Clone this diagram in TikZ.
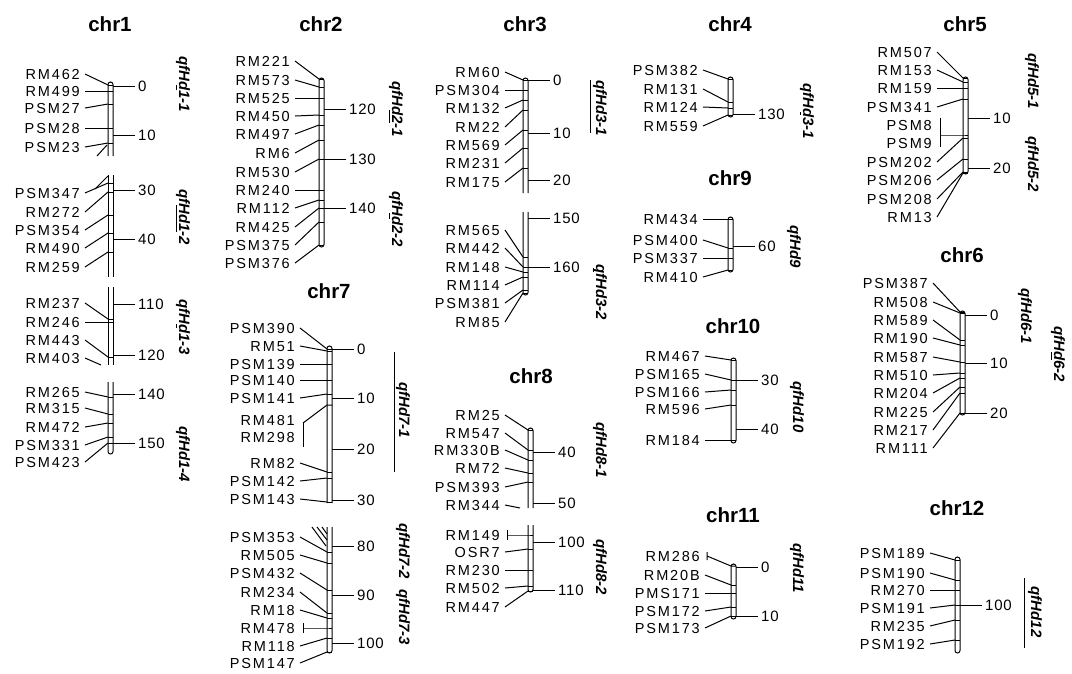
\documentclass[tikz,border=0pt]{standalone}
\usepackage{fontspec}
\setmainfont{Liberation Sans}
\newfontfamily\labfont[LetterSpace=13]{Liberation Sans}
\newfontfamily\numfont[LetterSpace=5]{Liberation Sans}
\tikzset{
  ln/.style={line width=1pt, black},
  lab/.style={anchor=east, inner xsep=5pt, inner ysep=0pt, text height=10pt, text depth=0pt, font=\labfont\fontsize{14.5}{14.5}\selectfont},
  num/.style={anchor=west, inner xsep=3pt, inner ysep=0pt, text height=10pt, text depth=0pt, font=\numfont\fontsize{15}{15}\selectfont},
  qtl/.style={rotate=-90, inner sep=0pt, font=\bfseries\itshape\fontsize{15}{15}\selectfont},
  ttl/.style={anchor=base, inner sep=0pt, font=\bfseries\fontsize{20.5}{20.5}\selectfont}
}
% marker: name, text, label right x, label y, bar left x, marker y
\newcommand\mrk[6]{%
  \node[lab] (#1) at (#3+5,#4) {#2};
  \coordinate (#1b) at (#5,#6);
  \draw[ln] (#1.east) -- (#1b);
  \draw[ln] (#1b) -- ++(5,0);}
% marker leader without bar tick
\newcommand\mrkx[6]{%
  \node[lab] (#1) at (#3+5,#4) {#2};
  \coordinate (#1b) at (#5,#6);
  \draw[ln] (#1.east) -- (#1b);}
% scale tick: name, bar right x, y, text
\newcommand\tck[4]{%
  \coordinate (#1a) at (#2,#3);
  \node[num] (#1) at (#2+22,#3) {#4};
  \draw[ln] (#1a) -- (#1.west);}
% bar segments: x, top, bottom
\newcommand\segT[3]{\draw[ln,rounded corners=2.5pt] (#1,#3) -- (#1,#2) -- (#1+5,#2) -- (#1+5,#3);}
\newcommand\segB[3]{\draw[ln,rounded corners=2.5pt] (#1,#2) -- (#1,#3) -- (#1+5,#3) -- (#1+5,#2);}
\newcommand\segO[3]{\draw[ln] (#1,#2) -- (#1,#3) (#1+5,#2) -- (#1+5,#3);}
\newcommand\segA[3]{\draw[ln,rounded corners=2.5pt] (#1,#2) rectangle (#1+5,#3);}
\begin{document}
\begin{tikzpicture}[x=1pt,y=-1pt]
\useasboundingbox (0,0) rectangle (1072,673);
\fill[white] (0,0) rectangle (1072,673);

% ---------------- chr1
\node[ttl] (t1) at (110,31) {chr1};
\segT{108}{82}{156}
\segO{108}{175}{277}
\segO{108}{287}{365}
\segB{108}{382}{454}
\mrk{a1}{RM462}{80}{74}{108}{85}
\mrk{a2}{RM499}{80}{91}{108}{91}
\mrk{a3}{PSM27}{80}{108}{108}{104}
\mrk{a4}{PSM28}{80}{128}{108}{128}
\mrk{a5}{PSM23}{80}{147}{108}{143}
\coordinate (a5s1) at (97,156); \coordinate (a5s2) at (107,145);
\draw[ln] (a5s1) -- (a5s2);
\coordinate (a6s1) at (95,189); \coordinate (a6s2) at (108,176);
\draw[ln] (a6s1) -- (a6s2);
\mrk{a6}{PSM347}{80}{193}{108}{183}
\mrk{a7}{RM272}{80}{212}{108}{192}
\mrk{a8}{PSM354}{80}{230}{108}{215}
\mrk{a9}{RM490}{80}{248}{108}{233}
\mrk{a10}{RM259}{80}{267}{108}{252}
\mrk{a11}{RM237}{80}{303}{108}{319}
\mrk{a12}{RM246}{80}{322}{108}{322}
\mrk{a13}{RM443}{80}{340}{108}{357}
\mrkx{a14}{RM403}{80}{358}{101}{365}
\mrk{a15}{RM265}{80}{392}{108}{397}
\mrk{a16}{RM315}{80}{408}{108}{414}
\mrk{a17}{RM472}{80}{427}{108}{423}
\mrk{a18}{PSM331}{80}{445}{108}{437}
\mrk{a19}{PSM423}{80}{462}{108}{443}
\tck{s1a}{113}{86}{0}
\tck{s1b}{113}{135}{10}
\tck{s1c}{113}{190}{30}
\tck{s1d}{113}{239}{40}
\tck{s1e}{113}{304}{110}
\tck{s1f}{113}{355}{120}
\tck{s1g}{113}{394}{140}
\tck{s1h}{113}{443}{150}
\node[qtl] (q11) at (183,84) {qfHd1-1};
\node[qtl] (q12) at (183,217) {qfHd1-2};
\node[qtl] (q13) at (183,327) {qfHd1-3};
\node[qtl] (q14) at (183,454) {qfHd1-4};
\draw[ln] (176,85) -- (176,90);
\draw[ln] (176,205) -- (176,232);
\draw[ln] (176,324) -- (176,328);

% ---------------- chr2
\node[ttl] (t2) at (321,31) {chr2};
\segA{319}{78}{247}
\mrk{b1}{RM221}{290}{61}{319}{79}
\mrk{b2}{RM573}{290}{80}{319}{87}
\mrk{b3}{RM525}{290}{98}{319}{98}
\mrk{b4}{RM450}{290}{116}{319}{115}
\mrk{b5}{RM497}{290}{134}{319}{125}
\mrk{b6}{RM6}{290}{153}{319}{140}
\mrk{b7}{RM530}{290}{172}{319}{159}
\mrk{b8}{RM240}{290}{190}{319}{190}
\mrk{b9}{RM112}{290}{208}{319}{200}
\mrk{b10}{RM425}{290}{227}{319}{208}
\mrk{b11}{PSM375}{290}{245}{319}{222}
\mrk{b12}{PSM376}{290}{263}{319}{245}
\tck{s2a}{324}{109}{120}
\tck{s2b}{324}{159}{130}
\tck{s2c}{324}{208}{140}
\node[qtl] (q21) at (396,109) {qfHd2-1};
\node[qtl] (q22) at (396,219) {qfHd2-2};
\draw[ln] (389,110) -- (389,123);
\draw[ln] (389,213) -- (389,219);

% ---------------- chr7
\node[ttl] (t7) at (329,298) {chr7};
\segT{327}{346}{503}
\segB{327}{527}{653}
\mrk{g1}{PSM390}{295}{328}{327}{349}
\mrk{g2}{RM51}{295}{346}{327}{351}
\mrk{g3}{PSM139}{295}{364}{327}{364}
\mrk{g4}{PSM140}{295}{380}{327}{380}
\mrk{g5}{PSM141}{295}{398}{327}{394}
\node[lab] (g6) at (300,420) {RM481};
\node[lab] (g7) at (300,437) {RM298};
\coordinate (g6t) at (303,423); \coordinate (g6u) at (303,447);
\coordinate (g6b) at (327,405);
\draw[ln] (g6t) -- (g6u);
\draw[ln] (g6t) -- (g6b) -- ++(5,0);
\mrk{g8}{RM82}{295}{463}{327}{472}
\mrk{g9}{PSM142}{295}{481}{327}{478}
\mrk{g10}{PSM143}{295}{499}{327}{502}
\coordinate (g11s1) at (312,527); \coordinate (g11s2) at (326,546);
\coordinate (g11s3) at (317,527); \coordinate (g11s4) at (327,540);
\coordinate (g11s5) at (322,527); \coordinate (g11s6) at (327,534);
\draw[ln] (g11s1) -- (g11s2) (g11s3) -- (g11s4) (g11s5) -- (g11s6);
\mrk{g11}{PSM353}{295}{537}{327}{552}
\mrk{g12}{RM505}{295}{555}{327}{563}
\mrk{g13}{PSM432}{295}{573}{327}{590}
\mrk{g14}{RM234}{295}{592}{327}{613}
\mrk{g15}{RM18}{295}{610}{327}{618}
\node[lab] (g16) at (300,628) {RM478};
\coordinate (g16a) at (303,628); \coordinate (g16b) at (327,628);
\coordinate (g16c) at (303,623); \coordinate (g16d) at (303,633);
\draw[ln] (g16c) -- (g16d) (g16a) -- (g16b) -- ++(5,0);
\mrk{g17}{RM118}{295}{646}{327}{638}
\mrk{g18}{PSM147}{295}{663}{327}{652}
\tck{s7a}{332}{349}{0}
\tck{s7b}{332}{398}{10}
\tck{s7c}{332}{449}{20}
\tck{s7d}{332}{500}{30}
\tck{s7e}{332}{546}{80}
\tck{s7f}{332}{595}{90}
\tck{s7g}{332}{643}{100}
\draw[ln] (394,352) -- (394,472);
\node[qtl] (q71) at (403,410) {qfHd7-1};
\node[qtl] (q72) at (403,551) {qfHd7-2};
\node[qtl] (q73) at (403,617) {qfHd7-3};

% ---------------- chr3
\node[ttl] (t3) at (525,31) {chr3};
\segT{523}{78}{193}
\segB{523}{212}{295}
\mrk{c1}{RM60}{500}{72}{523}{80}
\mrk{c2}{PSM304}{500}{90}{523}{90}
\mrk{c3}{RM132}{500}{108}{523}{100}
\mrk{c4}{RM22}{500}{127}{523}{110}
\mrk{c5}{RM569}{500}{145}{523}{130}
\mrk{c6}{RM231}{500}{163}{523}{148}
\mrk{c7}{RM175}{500}{182}{523}{168}
\mrk{c8}{RM565}{500}{230}{523}{257}
\mrk{c9}{RM442}{500}{248}{523}{267}
\mrk{c10}{RM148}{500}{267}{523}{272}
\mrk{c11}{RM114}{500}{285}{523}{277}
\mrk{c12}{PSM381}{500}{303}{523}{290}
\mrk{c13}{RM85}{500}{322}{523}{293}
\tck{s3a}{528}{80}{0}
\tck{s3b}{528}{133}{10}
\tck{s3c}{528}{180}{20}
\tck{s3d}{528}{218}{150}
\tck{s3e}{528}{267}{160}
\draw[ln] (590,80) -- (590,133);
\node[qtl] (q31) at (600,108) {qfHd3-1};
\node[qtl] (q32) at (600,292) {qfHd3-2};
\draw[ln] (593,268) -- (593,272);

% ---------------- chr8
\node[ttl] (t8) at (531,383) {chr8};
\segT{528}{428}{508}
\segB{528}{525}{592}
\mrk{h1}{RM25}{500}{415}{528}{430}
\mrk{h2}{RM547}{500}{433}{528}{450}
\mrk{h3}{RM330B}{500}{450}{528}{460}
\mrk{h4}{RM72}{500}{468}{528}{473}
\mrk{h5}{PSM393}{500}{487}{528}{482}
\mrkx{h6}{RM344}{500}{505}{520}{508}
\node[lab] (h7) at (505,535) {RM149};
\coordinate (h7a) at (507,535); \coordinate (h7b) at (528,535);
\coordinate (h7c) at (507,530); \coordinate (h7d) at (507,540);
\draw[ln] (h7c) -- (h7d) (h7a) -- (h7b) -- ++(5,0);
\mrk{h8}{OSR7}{500}{552}{528}{549}
\mrk{h9}{RM230}{500}{570}{528}{570}
\mrk{h10}{RM502}{500}{588}{528}{586}
\mrk{h11}{RM447}{500}{607}{528}{591}
\tck{s8a}{533}{452}{40}
\tck{s8b}{533}{503}{50}
\tck{s8c}{533}{542}{100}
\tck{s8d}{533}{590}{110}
\node[qtl] (q81) at (600,450) {qfHd8-1};
\node[qtl] (q82) at (600,567) {qfHd8-2};

% ---------------- chr4
\node[ttl] (t4) at (730,31) {chr4};
\segA{728}{77}{117}
\mrk{d1}{PSM382}{698}{70}{728}{79}
\mrk{d2}{RM131}{698}{89}{728}{102}
\mrk{d3}{RM124}{698}{107}{728}{108}
\mrk{d4}{RM559}{698}{126}{728}{115}
\tck{s4a}{733}{114}{130}
\node[qtl] (q41) at (807,111) {qfHd3-1};
\draw[ln] (800,112) -- (800,115);

% ---------------- chr9
\node[ttl] (t9) at (730,185) {chr9};
\segA{728}{217}{272}
\mrk{i1}{RM434}{698}{219}{728}{219}
\mrk{i2}{PSM400}{698}{240}{728}{248}
\mrk{i3}{PSM337}{698}{258}{728}{258}
\mrk{i4}{RM410}{698}{277}{728}{270}
\tck{s9a}{733}{246}{60}
\node[qtl] (q91) at (794,247) {qfHd9};

% ---------------- chr10
\node[ttl] (t10) at (733,333) {chr10};
\segA{731}{358}{443}
\mrk{j1}{RM467}{700}{356}{731}{360}
\mrk{j2}{PSM165}{700}{374}{731}{380}
\mrk{j3}{PSM166}{700}{392}{731}{390}
\mrk{j4}{RM596}{700}{409}{731}{405}
\mrk{j5}{RM184}{700}{440}{731}{440}
\tck{s10a}{736}{380}{30}
\tck{s10b}{736}{429}{40}
\node[qtl] (q101) at (797,407) {qfHd10};

% ---------------- chr11
\node[ttl] (t11) at (733,522) {chr11};
\segA{731}{564}{619}
\node[lab] (k1) at (705,556) {RM286};
\coordinate (k1a) at (707,556); \coordinate (k1b) at (731,566);
\coordinate (k1c) at (707,552); \coordinate (k1d) at (707,560);
\draw[ln] (k1c) -- (k1d) (k1a) -- (k1b) -- ++(5,0);
\mrk{k2}{RM20B}{700}{575}{731}{585}
\mrk{k3}{PMS171}{700}{593}{731}{593}
\mrk{k4}{PSM172}{700}{611}{731}{607}
\mrk{k5}{PSM173}{700}{628}{731}{616}
\tck{s11a}{736}{567}{0}
\tck{s11b}{736}{616}{10}
\node[qtl] (q111) at (797,568) {qfHd11};

% ---------------- chr5
\node[ttl] (t5) at (965,31) {chr5};
\segA{963}{77}{174}
\mrk{e1}{RM507}{932}{52}{963}{78}
\mrk{e2}{RM153}{932}{70}{963}{82}
\mrk{e3}{RM159}{932}{88}{963}{88}
\mrk{e4}{PSM341}{932}{107}{963}{99}
\node[lab] (e5) at (937,125) {PSM8};
\node[lab] (e6) at (937,143) {PSM9};
\coordinate (e5a) at (940,118); \coordinate (e5b) at (940,147);
\coordinate (e5c) at (940,135); \coordinate (e5d) at (963,135);
\draw[ln] (e5a) -- (e5b) (e5c) -- (e5d) -- ++(5,0);
\mrk{e7}{PSM202}{932}{162}{963}{138}
\mrk{e8}{PSM206}{932}{180}{963}{159}
\mrk{e9}{PSM208}{932}{199}{963}{172}
\mrk{e10}{RM13}{932}{217}{963}{173}
\tck{s5a}{968}{118}{10}
\tck{s5b}{968}{168}{20}
\node[qtl] (q51) at (1032,81) {qfHd5-1};
\node[qtl] (q52) at (1032,164) {qfHd5-2};

% ---------------- chr6
\node[ttl] (t6) at (962,262) {chr6};
\segA{960}{311}{415}
\mrk{f1}{PSM387}{928}{283}{960}{312}
\mrk{f2}{RM508}{928}{302}{960}{313}
\mrk{f3}{RM589}{928}{320}{960}{340}
\mrk{f4}{RM190}{928}{338}{960}{345}
\mrk{f5}{RM587}{928}{357}{960}{362}
\mrk{f6}{RM510}{928}{375}{960}{373}
\mrk{f7}{RM204}{928}{393}{960}{378}
\mrk{f8}{RM225}{928}{412}{960}{387}
\mrk{f9}{RM217}{928}{430}{960}{393}
\mrk{f10}{RM111}{928}{448}{960}{413}
\tck{s6a}{965}{315}{0}
\tck{s6b}{965}{363}{10}
\tck{s6c}{965}{413}{20}
\node[qtl] (q61) at (1025,316) {qfHd6-1};
\node[qtl] (q62) at (1058,354) {qfHd6-2};
\draw[ln] (1051,352) -- (1051,360);

% ---------------- chr12
\node[ttl] (t12) at (957,515) {chr12};
\segA{955}{557}{653}
\mrk{l1}{PSM189}{925}{553}{955}{560}
\mrk{l2}{PSM190}{925}{573}{955}{580}
\mrk{l3}{RM270}{925}{590}{955}{590}
\mrk{l4}{PSM191}{925}{608}{955}{605}
\mrk{l5}{RM235}{925}{626}{955}{620}
\mrk{l6}{PSM192}{925}{644}{955}{640}
\tck{s12a}{960}{605}{100}
\draw[ln] (1024,578) -- (1024,648);
\node[qtl] (q121) at (1035,612) {qfHd12};
\end{tikzpicture}
\end{document}
